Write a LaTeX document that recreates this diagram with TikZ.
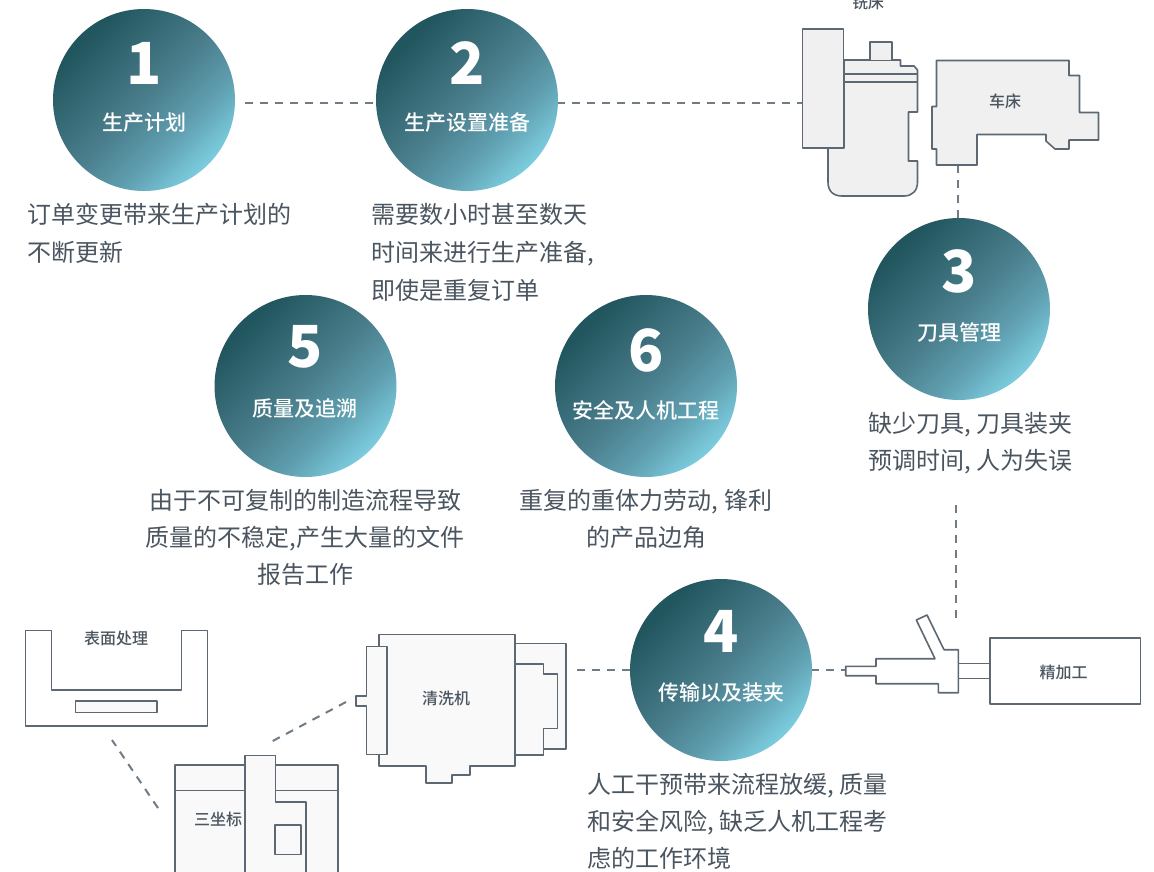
\documentclass[tikz,border=0pt]{standalone}
\usepackage{fontspec}
\setmainfont{Noto Sans CJK SC}
\newfontfamily\medfont{Noto Sans CJK SC Medium}
\newfontfamily\heavyfont{Noto Sans CJK SC Black}
\definecolor{T1}{HTML}{22565F}
\definecolor{T2}{HTML}{4A7E8C}
\definecolor{T3}{HTML}{5F9FB0}
\definecolor{T4}{HTML}{7CCDDF}
\definecolor{ink}{HTML}{4A5560}
\definecolor{edge}{HTML}{5C6873}
\definecolor{dashc}{HTML}{6F7B85}
\definecolor{fillA}{HTML}{F0F0F0}
\definecolor{fillB}{HTML}{F9F9F9}
\pgfdeclarehorizontalshading{discshade}{100bp}{color(0bp)=(T1);color(27bp)=(T1);color(50bp)=(T2);color(63bp)=(T3);color(75bp)=(T4);color(100bp)=(T4)}
\tikzset{
 disc/.style={circle,minimum size=182pt,inner sep=0pt,shading=discshade,shading angle=-45},
 num/.style={text=white,font=\fontsize{58}{58}\heavyfont,inner sep=0pt},
 lab/.style={text=white,font=\fontsize{21}{21}\medfont,inner sep=0pt},
 desc/.style={text=ink,font=\fontsize{24}{37}\selectfont,inner sep=0pt,align=left},
 descw/.style={text=ink,font=\fontsize{24}{38}\selectfont,inner sep=0pt,align=left},
 descc/.style={text=ink,font=\fontsize{24}{37}\selectfont,inner sep=0pt,align=center},
 small/.style={text=ink,font=\fontsize{16}{16}\medfont,inner sep=0pt},
 link/.style={draw=dashc,line width=2pt,dash pattern=on 8pt off 7pt},
 partA/.style={draw=edge,line width=1.6pt,fill=fillA,line join=round},
 partB/.style={draw=edge,line width=1.6pt,fill=fillB,line join=round},
 partW/.style={draw=edge,line width=1.6pt,fill=white,line join=round},
}
\begin{document}
\begin{tikzpicture}[x=1pt,y=-1pt]
\useasboundingbox (0,0) rectangle (1154,872);
\clip (0,0) rectangle (1154,872);
% dashed connectors
\coordinate (d1a) at (245,103.5); \coordinate (d1b) at (376,103.5);
\coordinate (d2a) at (557,103.5); \coordinate (d2b) at (802,103.5);
\coordinate (d3a) at (958,165); \coordinate (d3b) at (958,218);
\coordinate (d4a) at (955.5,505); \coordinate (d4b) at (955.5,621);
\coordinate (d5a) at (811,670); \coordinate (d5b) at (845,670);
\coordinate (d6a) at (630,670); \coordinate (d6b) at (576,670);
\coordinate (d7a) at (346,702); \coordinate (d7b) at (269,743);
\coordinate (d8a) at (158,808); \coordinate (d8b) at (112,740);
\draw[link] (d1a) -- (d1b);
\draw[link] (d2a) -- (d2b);
\draw[link] (d3a) -- (d3b);
\draw[link] (d4a) -- (d4b);
\draw[link] (d5a) -- (d5b);
\draw[link] (d6a) -- (d6b);
\draw[link] (d7a) -- (d7b);
\draw[link] (d8a) -- (d8b);
% discs
\node[disc] (c1) at (144,100) {};
\node[disc] (c2) at (467,100) {};
\node[disc] (c3) at (959,309) {};
\node[disc] (c5) at (305.5,386) {};
\node[disc] (c6) at (646,386) {};
\node[disc] (c4) at (721,670) {};
\node[num] (n1) at (144.5,63) {1};
\node[num] (n2) at (467.5,63) {2};
\node[num] (n3) at (959.5,271) {3};
\node[num] (n5) at (305.5,347) {5};
\node[num] (n6) at (646.5,350) {6};
\node[num] (n4) at (721.5,631) {4};
\node[lab] (l1) at (144,123) {生产计划};
\node[lab] (l2) at (467,123) {生产设置准备};
\node[lab] (l3) at (959,333) {刀具管理};
\node[lab] (l5) at (305,408.5) {质量及追溯};
\node[lab] (l6) at (646,410.5) {安全及人机工程};
\node[lab] (l4) at (721,693) {传输以及装夹};
% descriptions
\node[descw,anchor=north west] (t1) at (27,203) {订单变更带来生产计划的\\不断更新};
\node[descw,anchor=north west] (t2) at (371,203) {需要数小时甚至数天\\时间来进行生产准备,\\即使是重复订单};
\node[desc,anchor=north west] (t3) at (868,412) {缺少刀具, 刀具装夹\\预调时间, 人为失误};
\node[descc,anchor=north] (t5) at (305,489) {由于不可复制的制造流程导致\\质量的不稳定,产生大量的文件\\报告工作};
\node[descc,anchor=north] (t6) at (646,489) {重复的重体力劳动, 锋利\\的产品边角};
\node[desc,anchor=north west] (t4) at (587,773) {人工干预带来流程放缓, 质量\\和安全风险, 缺乏人机工程考\\虑的工作环境};
% mill
\draw[partA] (844,60) -- (900.5,60) -- (900.5,66) -- (914,66) -- (917.5,70) -- (917.5,112) -- (908.5,112) -- (908.5,161) -- (917.5,161) -- (917.5,182) .. controls (917.5,191) and (912,196) .. (904,196) -- (842,196) .. controls (833,196) and (828,191) .. (828,182) -- (828,148) -- (844,148) -- cycle;
\draw[partA] (844,74) -- (917.5,74) (844,82) -- (917.5,82);
\draw[partA] (870,60) -- (870,42) -- (892,42) -- (892,60);
\draw[partA] (802.5,29) rectangle (843.5,148);
\node[small] (mill) at (868,2) {铣床};
% lathe
\draw[partA] (936.5,60.5) -- (1069,60.5) -- (1069,75.5) -- (1079.5,75.5) -- (1079.5,112.5) -- (1098.5,112.5) -- (1098.5,140) -- (1069,140) -- (1069,149) -- (1055,149) -- (1046,141) -- (1046,134.5) -- (977,134.5) -- (977,165) -- (936.5,165) -- (936.5,149) -- (932,149) -- (932,106.5) -- (936.5,106.5) -- cycle;
\node[small] (lathe) at (1005,101) {车床};
% finishing
\draw[partW] (989.7,638) rectangle (1140.3,704);
\draw[partW] (957.7,663.3) rectangle (989.7,678.3);
\draw[partW] (845.7,666.3) -- (876,666.3) -- (876,658.7) -- (935,658.7) -- (916.3,620) -- (927,615) -- (944,649.7) -- (958.3,649.7) -- (958.3,692.7) -- (938.3,692.7) -- (938.3,683.7) -- (876,683.7) -- (876,675.7) -- (845.7,675.7) -- cycle;
\node[small] (fin) at (1063.5,672.5) {精加工};
% cleaner
\draw[partB] (514.7,643.3) -- (566,643.3) -- (566,749) -- (543.3,749) -- (543.3,755) -- (514.7,755) -- cycle;
\draw[partB] (514.7,664) -- (543.3,664) -- (543.3,673.7) -- (557.3,673.7) -- (557.3,728.3) -- (543.3,728.3) -- (543.3,755) -- (514.7,755) -- cycle;
\draw[partB] (379,634.5) -- (514.7,634.5) -- (514.7,766) -- (470,766) -- (470,775) -- (451.7,775) -- (451.7,783) -- (425.7,783) -- (425.7,766) -- (379,766) -- cycle;
\draw[partB] (366.3,646.3) -- (387,646.3) -- (387,754.3) -- (366.3,754.3) -- (366.3,705.7) -- (355.7,705.7) -- (355.7,695.7) -- (366.3,695.7) -- cycle;
\node[small] (clean) at (446,698.5) {清洗机};
% surface
\draw[partW] (25.3,630.5) -- (51.5,630.5) -- (51.5,690) -- (181.5,690) -- (181.5,630.5) -- (207.5,630.5) -- (207.5,726) -- (25.3,726) -- cycle;
\draw[partB] (75.5,701) rectangle (157,712.5);
\node[small] (surf) at (116,638.5) {表面处理};
% cmm
\draw[partB] (175,765) rectangle (338,880);
\draw[partB] (175,790.5) -- (338,790.5);
\draw[partB] (245,880) -- (245,755.5) -- (275.5,755.5) -- (275.5,802) -- (306,802) -- (306,880);
\draw[partB] (275,825) rectangle (301,854.5);
\node[small] (cmm) at (218,819.5) {三坐标};
\end{tikzpicture}
\end{document}
